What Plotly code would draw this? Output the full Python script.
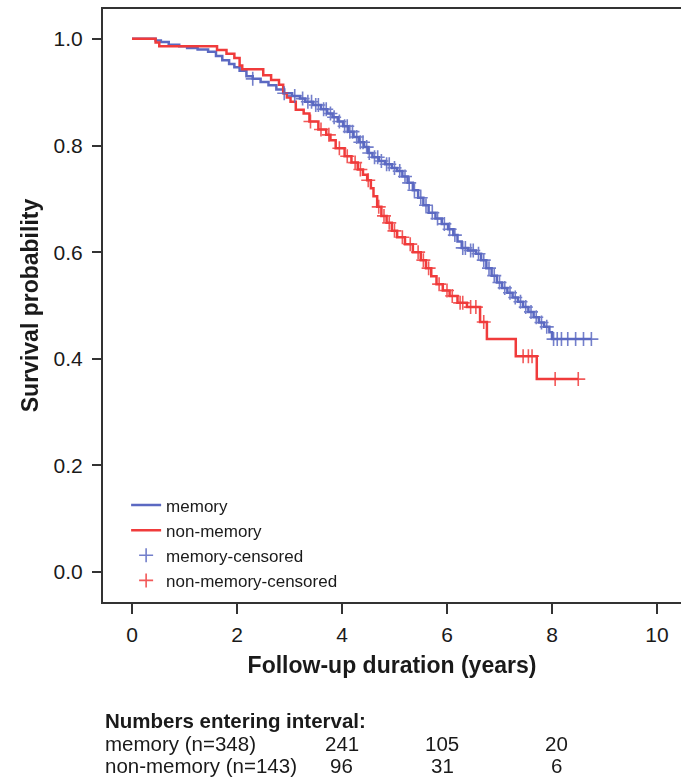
import numpy as np
import plotly.graph_objects as go

# ---------------- data ----------------
mem_t = [0, 0.45, 0.55, 0.7, 0.9, 1.05, 1.25, 1.45, 1.6, 1.72, 1.85, 1.95, 2.05, 2.18, 2.3,
         2.45, 2.6, 2.75, 2.9, 3.05, 3.2, 3.3, 3.45, 3.6, 3.72, 3.82, 3.92, 4.02, 4.12, 4.22,
         4.32, 4.42, 4.5, 4.58, 4.7, 4.82, 4.95, 5.05, 5.15, 5.25, 5.35, 5.45, 5.55, 5.65,
         5.78, 5.9, 6.02, 6.12, 6.2, 6.28, 6.4, 6.55, 6.65, 6.75, 6.85, 6.95, 7.05, 7.15,
         7.25, 7.35, 7.45, 7.55, 7.65, 7.75, 7.85, 7.95, 8.0, 8.75]
mem_s = [1.0, 0.997, 0.994, 0.989, 0.986, 0.983, 0.980, 0.976, 0.968, 0.960, 0.953, 0.947,
         0.940, 0.930, 0.925, 0.919, 0.913, 0.905, 0.898, 0.893, 0.888, 0.882, 0.876, 0.868,
         0.860, 0.853, 0.845, 0.836, 0.826, 0.816, 0.806, 0.797, 0.786, 0.778, 0.771, 0.765,
         0.758, 0.752, 0.742, 0.730, 0.716, 0.702, 0.688, 0.674, 0.663, 0.653, 0.643, 0.632,
         0.620, 0.608, 0.603, 0.597, 0.585, 0.570, 0.556, 0.543, 0.533, 0.524, 0.515, 0.507,
         0.497, 0.488, 0.478, 0.468, 0.460, 0.450, 0.437, 0.437]
mem_cens_t = [2.3, 2.9, 3.1, 3.25, 3.35, 3.42, 3.5, 3.55, 3.65, 3.7, 3.78, 3.85,
              3.95, 4.05, 4.1, 4.15, 4.2, 4.28, 4.35, 4.4, 4.47, 4.52, 4.62, 4.68, 4.75,
              4.85, 4.9, 5.0, 5.1, 5.2, 5.28, 5.38, 5.5, 5.6, 5.72, 5.82, 5.95, 6.05, 6.15,
              6.3, 6.35, 6.45, 6.5, 6.6, 6.7, 6.8, 6.9, 7.0, 7.1, 7.2, 7.3, 7.4, 7.5, 7.6,
              7.7, 7.8, 7.9, 8.03, 8.1, 8.18, 8.3, 8.45, 8.6, 8.75]

non_t = [0, 0.45, 0.52, 1.62, 1.8, 1.95, 2.05, 2.1, 2.5, 2.65, 2.8, 2.88, 2.95, 3.02, 3.12,
         3.27, 3.38, 3.55, 3.7, 3.78, 3.88, 4.05, 4.18, 4.3, 4.4, 4.48, 4.55, 4.6, 4.67, 4.75,
         4.85, 4.95, 5.05, 5.2, 5.35, 5.5, 5.6, 5.7, 5.8, 5.92, 6.05, 6.2, 6.38, 6.63, 6.76,
         7.31, 7.71, 8.5]
non_s = [1.0, 0.993, 0.986, 0.979, 0.972, 0.964, 0.950, 0.943, 0.932, 0.923, 0.914, 0.898,
         0.890, 0.882, 0.867, 0.860, 0.845, 0.830, 0.820, 0.810, 0.795, 0.780, 0.768, 0.755,
         0.745, 0.735, 0.720, 0.705, 0.685, 0.668, 0.655, 0.640, 0.628, 0.615, 0.600, 0.585,
         0.570, 0.555, 0.540, 0.528, 0.518, 0.505, 0.497, 0.469, 0.437, 0.405, 0.362, 0.362]
non_cens_t = [3.4, 3.6, 3.75, 3.95, 4.1, 4.25, 4.35, 4.5, 4.7, 4.8, 4.9, 5.0, 5.15, 5.3,
              5.45, 5.55, 5.65, 5.85, 6.0, 6.1, 6.25, 6.3, 6.45, 6.55, 6.7, 7.45, 7.55,
              7.62, 8.06, 8.5]

x_ticks = [0, 2, 4, 6, 8, 10]
y_ticks = [0.0, 0.2, 0.4, 0.6, 0.8, 1.0]

risk_times = [4, 6, 8]
risk_groups = ["memory (n=348)", "non-memory (n=143)"]
risk_memory = [241, 105, 20]
risk_nonmemory = [96, 31, 6]

BLUE = "#5b69c2"
RED = "#f03b3b"
TXT = "#1a1a1a"
FONT = "Liberation Sans, Arial, Helvetica, sans-serif"


def step_value(times, surv, t):
    idx = np.searchsorted(np.asarray(times), t, side="right") - 1
    return [surv[i] for i in idx]


fig = go.Figure()
fig.add_trace(go.Scatter(x=mem_t, y=mem_s, mode="lines", line=dict(color=BLUE, width=2.5, shape="hv"),
                         name="memory"))
fig.add_trace(go.Scatter(x=non_t, y=non_s, mode="lines", line=dict(color=RED, width=2.5, shape="hv"),
                         name="non-memory"))
fig.add_trace(go.Scatter(x=mem_cens_t, y=step_value(mem_t, mem_s, mem_cens_t), mode="markers",
                         marker=dict(symbol="cross-thin", size=10, line=dict(color=BLUE, width=1.6)),
                         opacity=0.85, name="memory-censored"))
fig.add_trace(go.Scatter(x=non_cens_t, y=step_value(non_t, non_s, non_cens_t), mode="markers",
                         marker=dict(symbol="cross-thin", size=10, line=dict(color=RED, width=1.6)),
                         opacity=0.85, name="non-memory-censored"))

# numbers-at-risk table
ann = [dict(text="<b>Numbers entering interval:</b>", xref="paper", yref="paper", x=0, y=0,
            xanchor="left", yanchor="middle", yshift=-118, showarrow=False,
            font=dict(family=FONT, size=20.5, color=TXT))]
col_shift = [0, -5, 4]
for r, (label, vals) in enumerate(zip(risk_groups, [risk_memory, risk_nonmemory])):
    ys = -141 - 22 * r
    ann.append(dict(text=label, xref="paper", yref="paper", x=0, y=0, xanchor="left",
                    yanchor="middle", yshift=ys, showarrow=False,
                    font=dict(family=FONT, size=20.5, color=TXT)))
    for c, (t, v) in enumerate(zip(risk_times, vals)):
        ann.append(dict(text=str(v), xref="x", yref="paper", x=t, y=0, xanchor="center",
                        yanchor="middle", yshift=ys, xshift=col_shift[c], showarrow=False,
                        font=dict(family=FONT, size=20.5, color=TXT)))

fig.update_layout(
    width=681, height=777,
    margin=dict(l=103, r=0, t=9, b=175),
    paper_bgcolor="white", plot_bgcolor="white",
    font=dict(family=FONT, color=TXT),
    showlegend=True,
    legend=dict(x=0.04, y=0.193, xanchor="left", yanchor="top", bgcolor="rgba(0,0,0,0)",
                font=dict(family=FONT, size=17, color=TXT), itemwidth=30),
    annotations=ann,
    xaxis=dict(range=[-0.552, 10.457], tickvals=x_ticks, ticks="outside", ticklen=10, tickwidth=2,
               tickcolor="#333", showline=True, linewidth=2, linecolor="#333", mirror=True,
               showgrid=False, zeroline=False, ticklabelstandoff=3,
               tickfont=dict(family=FONT, size=21, color=TXT),
               title=dict(text="<b>Follow-up duration (years)</b>", standoff=12,
                          font=dict(family=FONT, size=23, color=TXT))),
    yaxis=dict(range=[-0.056, 1.056], tickvals=y_ticks, tickformat=".1f", ticks="outside", ticklen=9,
               tickwidth=2, tickcolor="#333", showline=True, linewidth=2, linecolor="#333",
               mirror=False, showgrid=False, zeroline=False, ticklabelstandoff=5,
               tickfont=dict(family=FONT, size=21, color=TXT),
               title=dict(text="<b>Survival probability</b>", standoff=9,
                          font=dict(family=FONT, size=23, color=TXT))),
)

fig.write_html("out.html", config={"displayModeBar": False},
               post_script="document.body.style.margin='0';")
